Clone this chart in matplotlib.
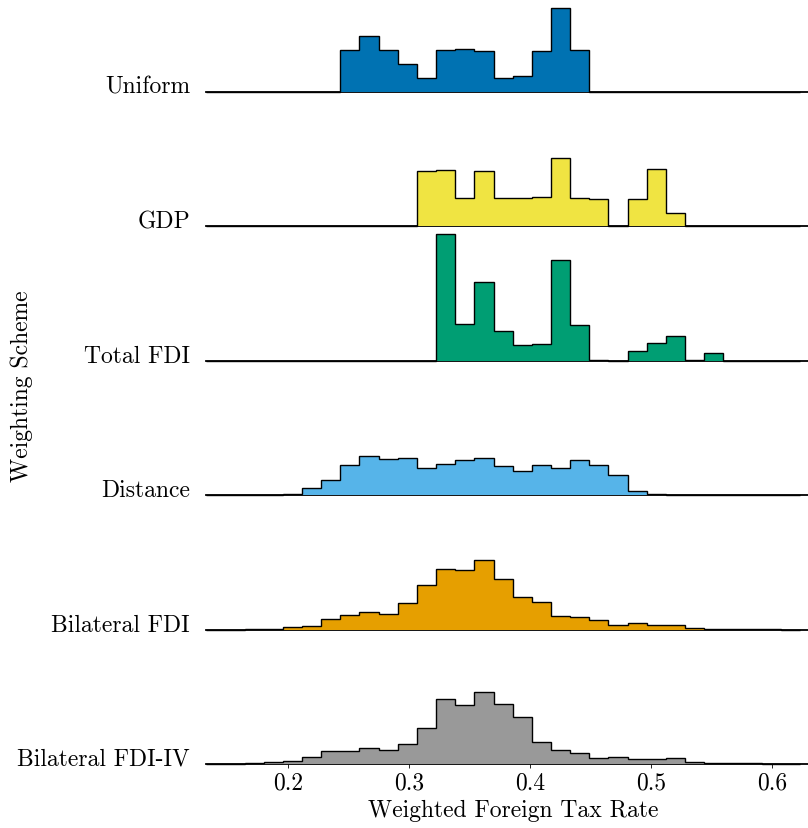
import numpy as np
import matplotlib
matplotlib.use("Agg")
import matplotlib.pyplot as plt
import matplotlib.transforms as mtransforms

plt.rcParams['font.family'] = ['cmr10', 'DejaVu Serif']
plt.rcParams['axes.formatter.use_mathtext'] = True
plt.rcParams['mathtext.fontset'] = 'cm'

# ---- data ----
bin_start = 0.13253
bin_width = 0.015813
n_bins = 31

schemes = ["Uniform", "GDP", "Total FDI", "Distance", "Bilateral FDI", "Bilateral FDI-IV"]
colors = ["#0072B2", "#F0E442", "#009E73", "#56B4E9", "#E69F00", "#999999"]

uniform = [0, 0, 0, 0, 0, 0, 0,
           42, 56, 42, 28, 14, 42, 43, 41, 14, 16, 41, 84, 42,
           0, 0, 0, 0, 0, 0, 0, 0, 0, 0, 0]
gdp = [0, 0, 0, 0, 0, 0, 0, 0, 0, 0.2, 0.2,
       55.7, 56.7, 28.4, 55.7, 28.4, 28, 29.7, 68.3, 28, 27.4, 0, 27, 57.4, 13.7,
       0, 0, 0, 0, 0, 0]
total_fdi = [0, 0, 0, 0, 0, 0, 0, 0, 0, 0.2, 0.2, 0.3,
             127, 36.8, 79.2, 29.4, 15.4, 16.4, 101, 35.8, 0.7, 0, 10, 18, 24.4, 1.3, 7.7,
             0.2, 0.2, 0, 0]
distance = [0, 0, 0, 0,
            1, 7.7, 15.7, 30.7, 39, 36.3, 37.7, 27.3, 31.3, 35.7, 37.3, 29.7, 24.3,
            30.7, 27.7, 35.7, 30.7, 20.7, 4.3, 1.7, 0.7, 0.7,
            0, 0, 0, 0, 0]
bilateral_fdi = [0, 0,
                 0.7, 1, 3, 4, 10.7, 14.7, 17.7, 15.7, 26.7, 44.7, 60.7, 59.7, 69.3, 51,
                 32.7, 27.7, 14, 12.3, 9.7, 4.3, 6.7, 5, 4.3, 1.3, 0.7, 1, 0.3, 0.3,
                 0]
bilateral_fdi_iv = [0, 0,
                    1, 2, 3.3, 7.3, 12.7, 12.7, 16.3, 13.7, 20.3, 35.7, 65.3, 58.7, 72.3,
                    59.7, 47.3, 22.3, 14.3, 10.7, 6, 6.7, 5, 5, 5.7, 2, 1, 1, 0.7,
                    0, 0]
series = [uniform, gdp, total_fdi, distance, bilateral_fdi, bilateral_fdi_iv]

xticks = [0.2, 0.3, 0.4, 0.5, 0.6]
xtick_labels = ["0.2", "0.3", "0.4", "0.5", "0.6"]
xlim = (0.13228, 0.6294)
ridge_spacing = 134.4

# ---- plot ----
W, H = 808, 829
fig = plt.figure(figsize=(W / 100, H / 100), dpi=100)
ax = fig.add_axes([206 / W, 64 / H, (808 - 206) / W, 764 / H])

edges = bin_start + bin_width * np.arange(n_bins + 1)
n = len(series)
for i, (name, vals, col) in enumerate(zip(schemes, series, colors)):
    off = (n - 1 - i) * ridge_spacing
    v = np.asarray(vals, dtype=float) + off
    ax.axhline(off, color="black", lw=1.3, zorder=1 + 3 * i, clip_on=False)
    ax.stairs(v, edges, baseline=off, fill=True, color=col, lw=0, zorder=2 + 3 * i,
              clip_on=False)
    ax.stairs(v, edges, baseline=off, color="black", lw=1.0, zorder=3 + 3 * i,
              clip_on=False)
    trans = mtransforms.blended_transform_factory(ax.transAxes, ax.transData)
    ax.text(-16 / 602, off - 1, name, transform=trans, ha="right", va="baseline",
            fontsize=17)

ax.set_xlim(*xlim)
ax.set_ylim(0, 764)
for s in ax.spines.values():
    s.set_visible(False)
ax.set_yticks([])
ax.set_xticks(xticks)
ax.set_xticklabels(xtick_labels, fontsize=17)
ax.tick_params(axis="x", length=3, width=0.6, pad=2, direction="out")

fig.text(513 / W, 1 - 811 / H, "Weighted Foreign Tax Rate", ha="center", va="center",
         fontsize=17)
fig.text(22 / W, 1 - 386 / H, "Weighting Scheme", ha="center", va="center",
         rotation=90, fontsize=17)

fig.savefig("out.png", dpi=100)
